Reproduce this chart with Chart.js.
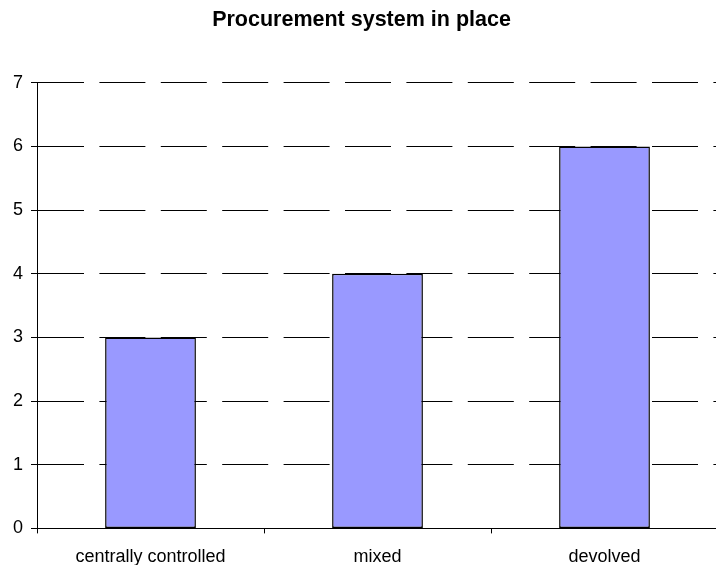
<!DOCTYPE html>
<html>
<head>
<meta charset="utf-8">
<script src="https://cdn.jsdelivr.net/npm/chart.js@4/dist/chart.umd.min.js"></script>
<style>
  html, body { margin: 0; padding: 0; background: #fff; overflow: hidden; }
  #wrap { width: 720px; height: 573px; }
</style>
</head>
<body>
<div id="wrap"><canvas id="chart" width="720" height="573"></canvas></div>
<script>
// Data
const categories = ['centrally controlled', 'mixed', 'devolved'];
const counts = [3, 4, 6];
const yTicks = [0, 1, 2, 3, 4, 5, 6, 7];

const font = 'Arial, "Liberation Sans", sans-serif';

const ctx = document.getElementById('chart').getContext('2d');

const chart = new Chart(ctx, {
  type: 'bar',
  data: {
    labels: categories,
    datasets: [{
      data: counts,
      backgroundColor: '#9999FF',
      borderColor: '#000000',
      borderWidth: 1.5,
      borderSkipped: false,
      barPercentage: 0.4,
      categoryPercentage: 1.0
    }]
  },
  options: {
    responsive: false,
    animation: false,
    layout: {
      padding: { left: 5, right: 2, top: 0, bottom: -8 }
    },
    plugins: {
      legend: { display: false },
      tooltip: { enabled: false },
      title: {
        display: true,
        text: 'Procurement system in place',
        color: '#000',
        font: { family: font, size: 21.5, weight: 'bold' },
        padding: { top: 7, bottom: 50 }
      }
    },
    scales: {
      x: {
        offset: true,
        grid: {
          drawOnChartArea: false,
          offset: true,
          tickLength: 5,
          color: '#000'
        },
        border: { color: '#000', width: 1 },
        ticks: {
          color: '#000',
          padding: 13,
          font: { family: font, size: 18 }
        }
      },
      y: {
        min: 0,
        max: 7,
        afterBuildTicks: axis => {
          axis.ticks = yTicks.map(v => ({ value: v }));
        },
        grid: {
          color: '#000',
          tickLength: 6,
          tickBorderDash: []
        },
        border: { color: '#000', width: 1, dash: [46, 15.4] },
        ticks: {
          color: '#000',
          padding: 8,
          font: { family: font, size: 18 }
        }
      }
    }
  }
});
</script>
</body>
</html>
